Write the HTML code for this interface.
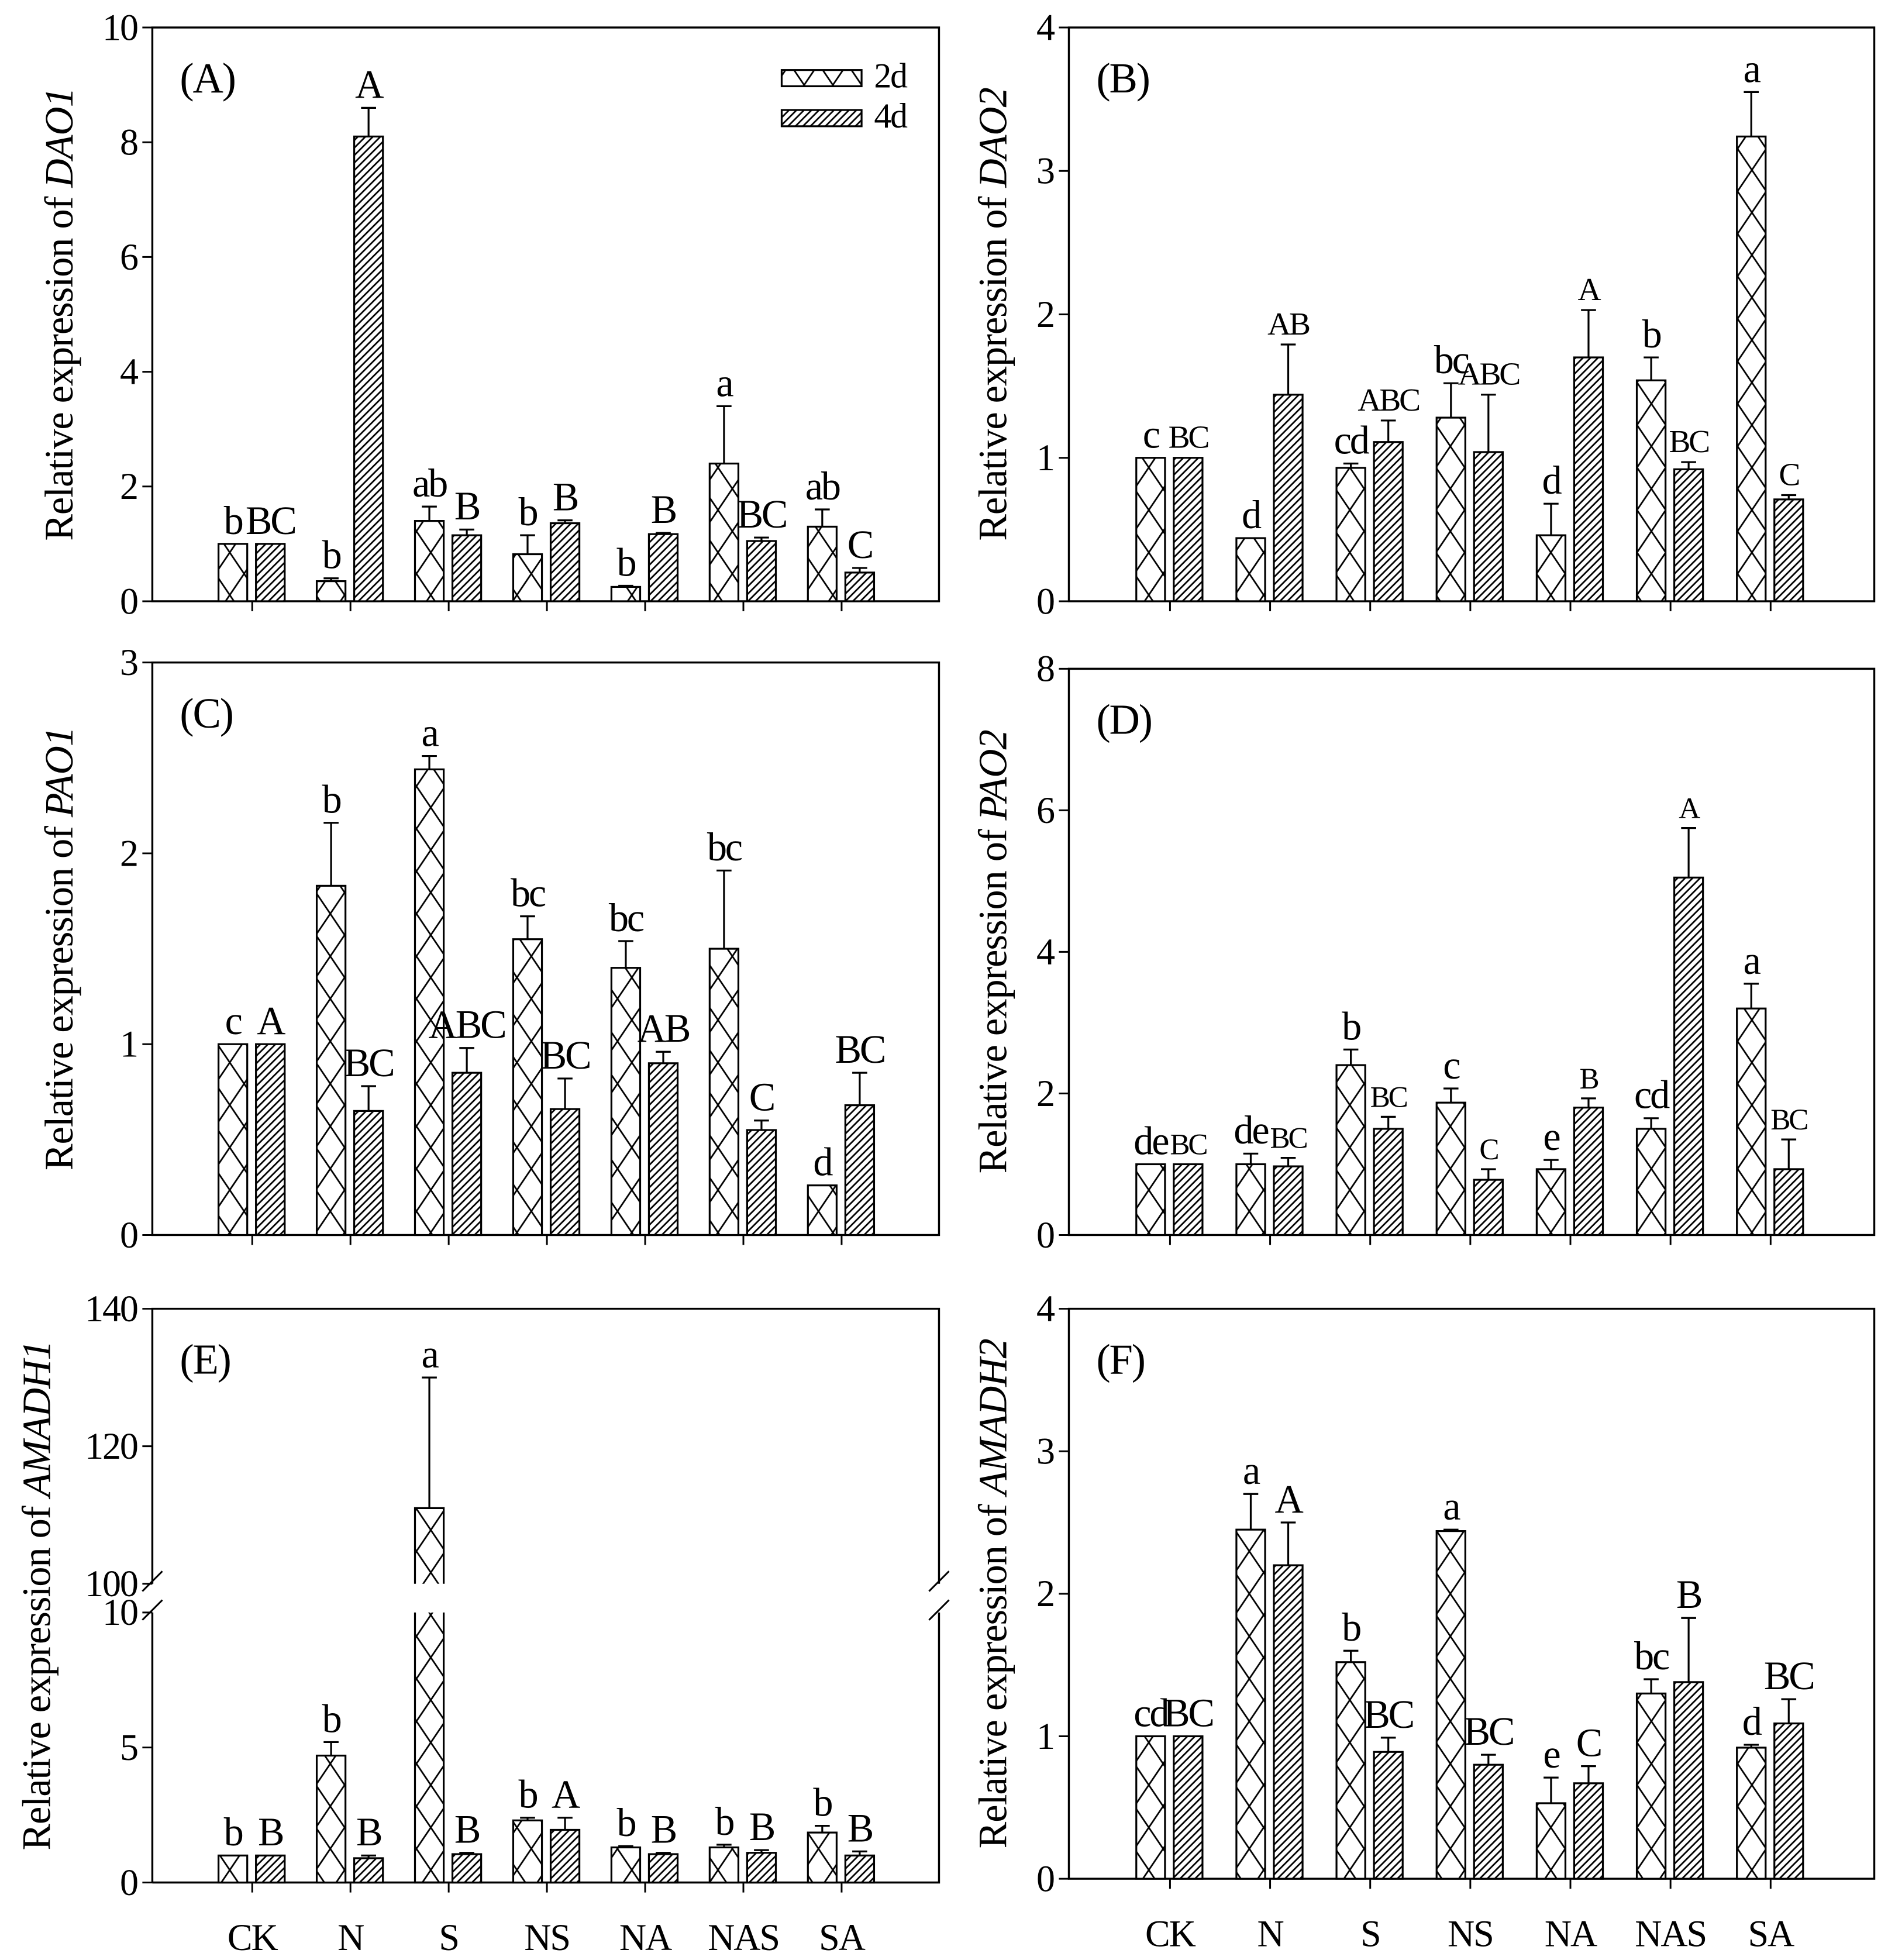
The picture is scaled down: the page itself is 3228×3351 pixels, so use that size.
<!DOCTYPE html>
<html><head><meta charset="utf-8"><style>
html,body{margin:0;padding:0;background:#fff}
svg{display:block}
text{font-family:"Liberation Serif",serif;fill:#000}
</style></head><body>
<svg id="fig" xmlns="http://www.w3.org/2000/svg" width="3228" height="3351" viewBox="0 0 1512 1568" preserveAspectRatio="none">
<defs>
<pattern id="xh" patternUnits="userSpaceOnUse" width="23" height="34">
<path d="M0 0 L23 34 M23 0 L0 34" stroke="#000" stroke-width="1.3" fill="none"/>
</pattern>
<pattern id="dh" patternUnits="userSpaceOnUse" width="6" height="6">
<path d="M-1 7 L7 -1 M-1 1 L1 -1 M5 7 L7 5" stroke="#000" stroke-width="1.3"/>
</pattern>
</defs>
<g id="root"></g>
</svg>
<script>
const categories = ["CK","N","S","NS","NA","NAS","SA"];
// Panel A DAO1
const aV2 = [1,0.35,1.4,0.82,0.25,2.4,1.3];
const aE2 = [0,0.05,0.25,0.33,0.02,1.0,0.3];
const aV4 = [1,8.1,1.15,1.36,1.17,1.05,0.5];
const aE4 = [0,0.5,0.1,0.05,0.02,0.06,0.08];
const aL2 = ["b","b","ab","b","b","a","ab"];
const aL4 = ["BC","A","B","B","B","BC","C"];
// Panel B DAO2
const bV2 = [1,0.44,0.93,1.28,0.46,1.54,3.24];
const bE2 = [0,0,0.03,0.24,0.22,0.16,0.31];
const bV4 = [1,1.44,1.11,1.04,1.7,0.92,0.71];
const bE4 = [0,0.35,0.15,0.4,0.33,0.05,0.03];
const bL2 = ["c","d","cd","bc","d","b","a"];
const bL4 = ["BC","AB","ABC","ABC","A","BC","C"];
// Panel C PAO1
const cV2 = [1,1.83,2.44,1.55,1.4,1.5,0.26];
const cE2 = [0,0.33,0.07,0.12,0.14,0.41,0];
const cV4 = [1,0.65,0.85,0.66,0.9,0.55,0.68];
const cE4 = [0,0.13,0.13,0.16,0.06,0.05,0.17];
const cL2 = ["c","b","a","bc","bc","bc","d"];
const cL4 = ["A","BC","ABC","BC","AB","C","BC"];
// Panel D PAO2
const dV2 = [1,1,2.4,1.87,0.93,1.5,3.2];
const dE2 = [0,0.15,0.22,0.2,0.13,0.15,0.35];
const dV4 = [1,0.97,1.5,0.78,1.8,5.05,0.93];
const dE4 = [0,0.12,0.17,0.15,0.13,0.7,0.42];
const dL2 = ["de","de","b","c","e","cd","a"];
const dL4 = ["BC","BC","BC","C","B","A","BC"];
// Panel E AMADH1
const eV2 = [1,4.7,111,2.3,1.3,1.3,1.85];
const eE2 = [0,0.5,19,0.1,0.05,0.1,0.25];
const eV4 = [1,0.9,1.05,1.95,1.05,1.1,1.0];
const eE4 = [0,0.1,0.05,0.45,0.05,0.1,0.15];
const eL2 = ["b","b","a","b","b","b","b"];
const eL4 = ["B","B","B","A","B","B","B"];
// Panel F AMADH2
const fV2 = [1,2.45,1.52,2.44,0.53,1.3,0.92];
const fE2 = [0,0.25,0.08,0.01,0.18,0.1,0.02];
const fV4 = [1,2.2,0.89,0.8,0.67,1.38,1.09];
const fE4 = [0,0.3,0.1,0.07,0.12,0.45,0.17];
const fL2 = ["cd","a","b","a","e","bc","d"];
const fL4 = ["BC","A","BC","BC","C","B","BC"];

const NS="http://www.w3.org/2000/svg";
const root=document.getElementById('root');
function mk(tag,attrs,parent){const e=document.createElementNS(NS,tag);for(const k in attrs)e.setAttribute(k,attrs[k]);(parent||root).appendChild(e);return e;}

function panel(o){
  const g=mk('g',{});
  
  
  const {L,R,T,B}=o;
  let y;
  if(o.broken){
    y=v=> v<=10 ? B-(v/10)*(B-o.bLow) : o.bHigh-(v-100)/40*(o.bHigh-T);
  } else {
    y=v=> B-(v/o.max)*(B-T);
  }
  const sp=(o.last-o.first)/6;
  const xc=i=>o.first+i*sp;
  const sw=1.6;
  if(o.broken){
    mk('path',{d:`M${L} ${B} L${L} ${o.bLow} M${L} ${o.bHigh} L${L} ${T} L${R} ${T} L${R} ${o.bHigh} M${R} ${o.bLow} L${R} ${B} L${L} ${B}`,stroke:'#000','stroke-width':sw,fill:'none'},g);
    [L,R].forEach(xx=>{
      mk('path',{d:`M${xx-8} ${o.bHigh+6} L${xx+8} ${o.bHigh-10} M${xx-8} ${o.bLow+6} L${xx+8} ${o.bLow-10}`,stroke:'#000','stroke-width':1.4},g);
    });
  } else {
    mk('rect',{x:L,y:T,width:R-L,height:B-T,stroke:'#000','stroke-width':sw,fill:'none'},g);
  }
  o.ticks.forEach(t=>{
    const yy=y(t);
    mk('line',{x1:L-8,x2:L,y1:yy,y2:yy,stroke:'#000','stroke-width':1.4},g);
    const tx=mk('text',{x:L-12,y:yy+10,'text-anchor':'end','font-size':30,'letter-spacing':-1},g);
    
    
    tx.textContent=t;
  });
  const yt=mk('text',{transform:`translate(${o.titleX},${(T+B)/2}) rotate(-90)`,'text-anchor':'middle','font-size':32,'letter-spacing':-0.5},g);
  
  
  yt.appendChild(document.createTextNode('Relative expression of '));
  const it=mk('tspan',{'font-style':'italic'},yt); it.textContent=o.gene;
  const pl=mk('text',{x:L+22,y:T+52,'font-size':34,'letter-spacing':-1},g);
  
  
  pl.textContent='('+o.id+')';
  const bw=23;
  categories.forEach((c,i)=>{
    const cx=xc(i);
    mk('line',{x1:cx,x2:cx,y1:B,y2:B+8,stroke:'#000','stroke-width':1.4},g);
    if(o.xlabels){
      const xl=mk('text',{x:cx,y:B+54,'text-anchor':'middle','font-size':30,'letter-spacing':-1},g);
      
      
      xl.textContent=c;
    }
    [[o.v2,o.e2,o.l2,'url(#xh)',cx-27,'2d',o.s2||32],[o.v4,o.e4,o.l4,'url(#dh)',cx+3,'4d',o.s4||32]].forEach(([vs,es,ls,fill,x0,ser,fs])=>{
      const v=vs[i], e=es[i];
      const top=y(v);
      if(o.broken && v>10){
        mk('rect',{x:x0,y:o.bLow,width:bw,height:B-o.bLow,fill:fill,stroke:'none'},g);
        mk('path',{d:`M${x0} ${o.bLow} L${x0} ${B} L${x0+bw} ${B} L${x0+bw} ${o.bLow}`,stroke:'#000','stroke-width':1.5,fill:'none'},g);
        const r=mk('rect',{x:x0,y:top,width:bw,height:o.bHigh-top,fill:fill,stroke:'none'},g);
        
        
        mk('path',{d:`M${x0} ${o.bHigh} L${x0} ${top} L${x0+bw} ${top} L${x0+bw} ${o.bHigh}`,stroke:'#000','stroke-width':1.5,fill:'none'},g);
      } else {
        mk('rect',{x:x0,y:top,width:bw,height:B-top,fill:'#fff'},g);
        const r=mk('rect',{x:x0,y:top,width:bw,height:B-top,fill:fill,stroke:'#000','stroke-width':1.5},g);
        
        
      }
      const mx=x0+bw/2;
      const et=y(v+e);
      if(e>0){
        mk('path',{d:`M${mx} ${top} L${mx} ${et} M${mx-6} ${et} L${mx+6} ${et}`,stroke:'#000','stroke-width':1.5,fill:'none'},g);
      }
      const lb=mk('text',{x:mx,y:et-8,'text-anchor':'middle','font-size':fs,'letter-spacing':-1.5},g);
      
      
      lb.textContent=ls[i];
    });
  });
  return g;
}
panel({id:'A',gene:'DAO1',L:122,R:752,T:22,B:481,max:10,ticks:[0,2,4,6,8,10],first:202,last:674,titleX:58,v2:aV2,e2:aE2,v4:aV4,e4:aE4,l2:aL2,l4:aL4});
panel({id:'B',gene:'DAO2',L:856,R:1501,T:22,B:481,max:4,ticks:[0,1,2,3,4],first:937,last:1418,titleX:806,v2:bV2,e2:bE2,v4:bV4,e4:bE4,l2:bL2,l4:bL4,s4:26});
panel({id:'C',gene:'PAO1',L:122,R:752,T:530,B:988,max:3,ticks:[0,1,2,3],first:202,last:674,titleX:58,v2:cV2,e2:cE2,v4:cV4,e4:cE4,l2:cL2,l4:cL4});
panel({id:'D',gene:'PAO2',L:856,R:1501,T:535,B:988,max:8,ticks:[0,2,4,6,8],first:937,last:1418,titleX:806,v2:dV2,e2:dE2,v4:dV4,e4:dE4,l2:dL2,l4:dL4,s4:24});
panel({id:'E',gene:'AMADH1',L:122,R:752,T:1047,B:1506,broken:true,bLow:1290,bHigh:1267,ticks:[0,5,10,100,120,140],first:202,last:674,titleX:40,v2:eV2,e2:eE2,v4:eV4,e4:eE4,l2:eL2,l4:eL4,xlabels:true});
panel({id:'F',gene:'AMADH2',L:856,R:1501,T:1047,B:1503,max:4,ticks:[0,1,2,3,4],first:937,last:1418,titleX:806,v2:fV2,e2:fE2,v4:fV4,e4:fE4,l2:fL2,l4:fL4,xlabels:true});

const lg=mk('g',{});


[['url(#xh)','2d',56],['url(#dh)','4d',88]].forEach(([f,t,yy])=>{
  const r=mk('rect',{x:626,y:yy,width:64,height:13,fill:f,stroke:'#000','stroke-width':1.5},lg);
  
  
  const tx=mk('text',{x:700,y:yy+14,'font-size':28,'letter-spacing':-1},lg);
  
  
  tx.textContent=t;
});
</script>
</body></html>
